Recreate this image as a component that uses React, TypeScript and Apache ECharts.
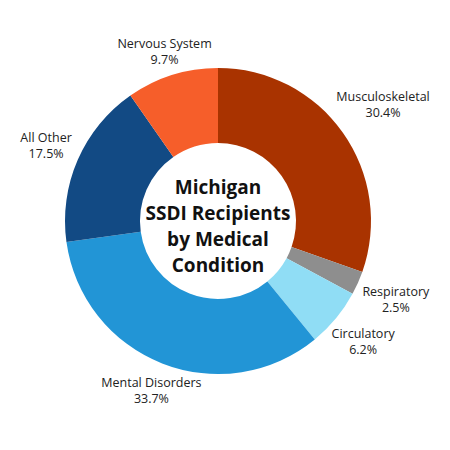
import React, { useEffect, useRef } from "react";
import * as echarts from "echarts";

const CONDITIONS = [
  "Musculoskeletal",
  "Respiratory",
  "Circulatory",
  "Mental Disorders",
  "All Other",
  "Nervous System",
];
const SHARES = [30.4, 2.5, 6.2, 33.7, 17.5, 9.7];
const COLORS = ["#a93300", "#8e8e8e", "#90ddf5", "#2295d6", "#124a84", "#f65e2a"];

const CENTER_X = 218;
const CENTER_Y = 221;
const OUTER_R = 153;
const INNER_R = 78;
const LABEL_GAP = 11;

const App: React.FC = () => {
  const ref = useRef<HTMLDivElement>(null);

  useEffect(() => {
    if (!ref.current) return;
    const chart = echarts.init(ref.current, null, { renderer: "svg" });

    const total = SHARES.reduce((a, b) => a + b, 0);
    // 每块扇区的中间角度（从顶部顺时针）
    const midAngles: number[] = [];
    let acc = 0;
    SHARES.forEach((v) => {
      midAngles.push(((acc + v / 2) / total) * Math.PI * 2);
      acc += v;
    });

    chart.setOption({
      animation: false,
      backgroundColor: "#ffffff",
      graphic: [
        {
          type: "text",
          x: CENTER_X,
          y: CENTER_Y + 5,
          style: {
            text: "Michigan\nSSDI Recipients\nby Medical\nCondition",
            fill: "#111111",
            font: 'bold 19px "Open Sans"',
            lineHeight: 26,
            align: "center",
            verticalAlign: "middle",
          },
          z: 10,
        },
      ],
      series: [
        {
          type: "pie",
          center: [CENTER_X, CENTER_Y],
          radius: [INNER_R, OUTER_R],
          startAngle: 90,
          clockwise: true,
          avoidLabelOverlap: false,
          silent: true,
          label: {
            show: true,
            position: "outside",
            formatter: "{b}\n{c}%",
            fontFamily: "Open Sans",
            fontSize: 12.5,
            lineHeight: 16,
            color: "#222222",
          },
          labelLine: { show: false },
          labelLayout: (params: any) => {
            const a = midAngles[params.dataIndex];
            const dx = Math.sin(a);
            const dy = -Math.cos(a);
            const w = params.labelRect.width;
            const r = OUTER_R + LABEL_GAP + (Math.abs(dx) * w) / 2;
            return {
              x: CENTER_X + dx * r,
              y: CENTER_Y + dy * r,
              align: "center",
              verticalAlign: "middle",
            };
          },
          data: CONDITIONS.map((name, i) => ({
            name,
            value: SHARES[i],
            itemStyle: { color: COLORS[i] },
          })),
        },
      ],
    });

    return () => chart.dispose();
  }, []);

  return (
    <div
      ref={ref}
      style={{ position: "absolute", left: 0, top: 0, width: 450, height: 450 }}
    />
  );
};

export default App;
